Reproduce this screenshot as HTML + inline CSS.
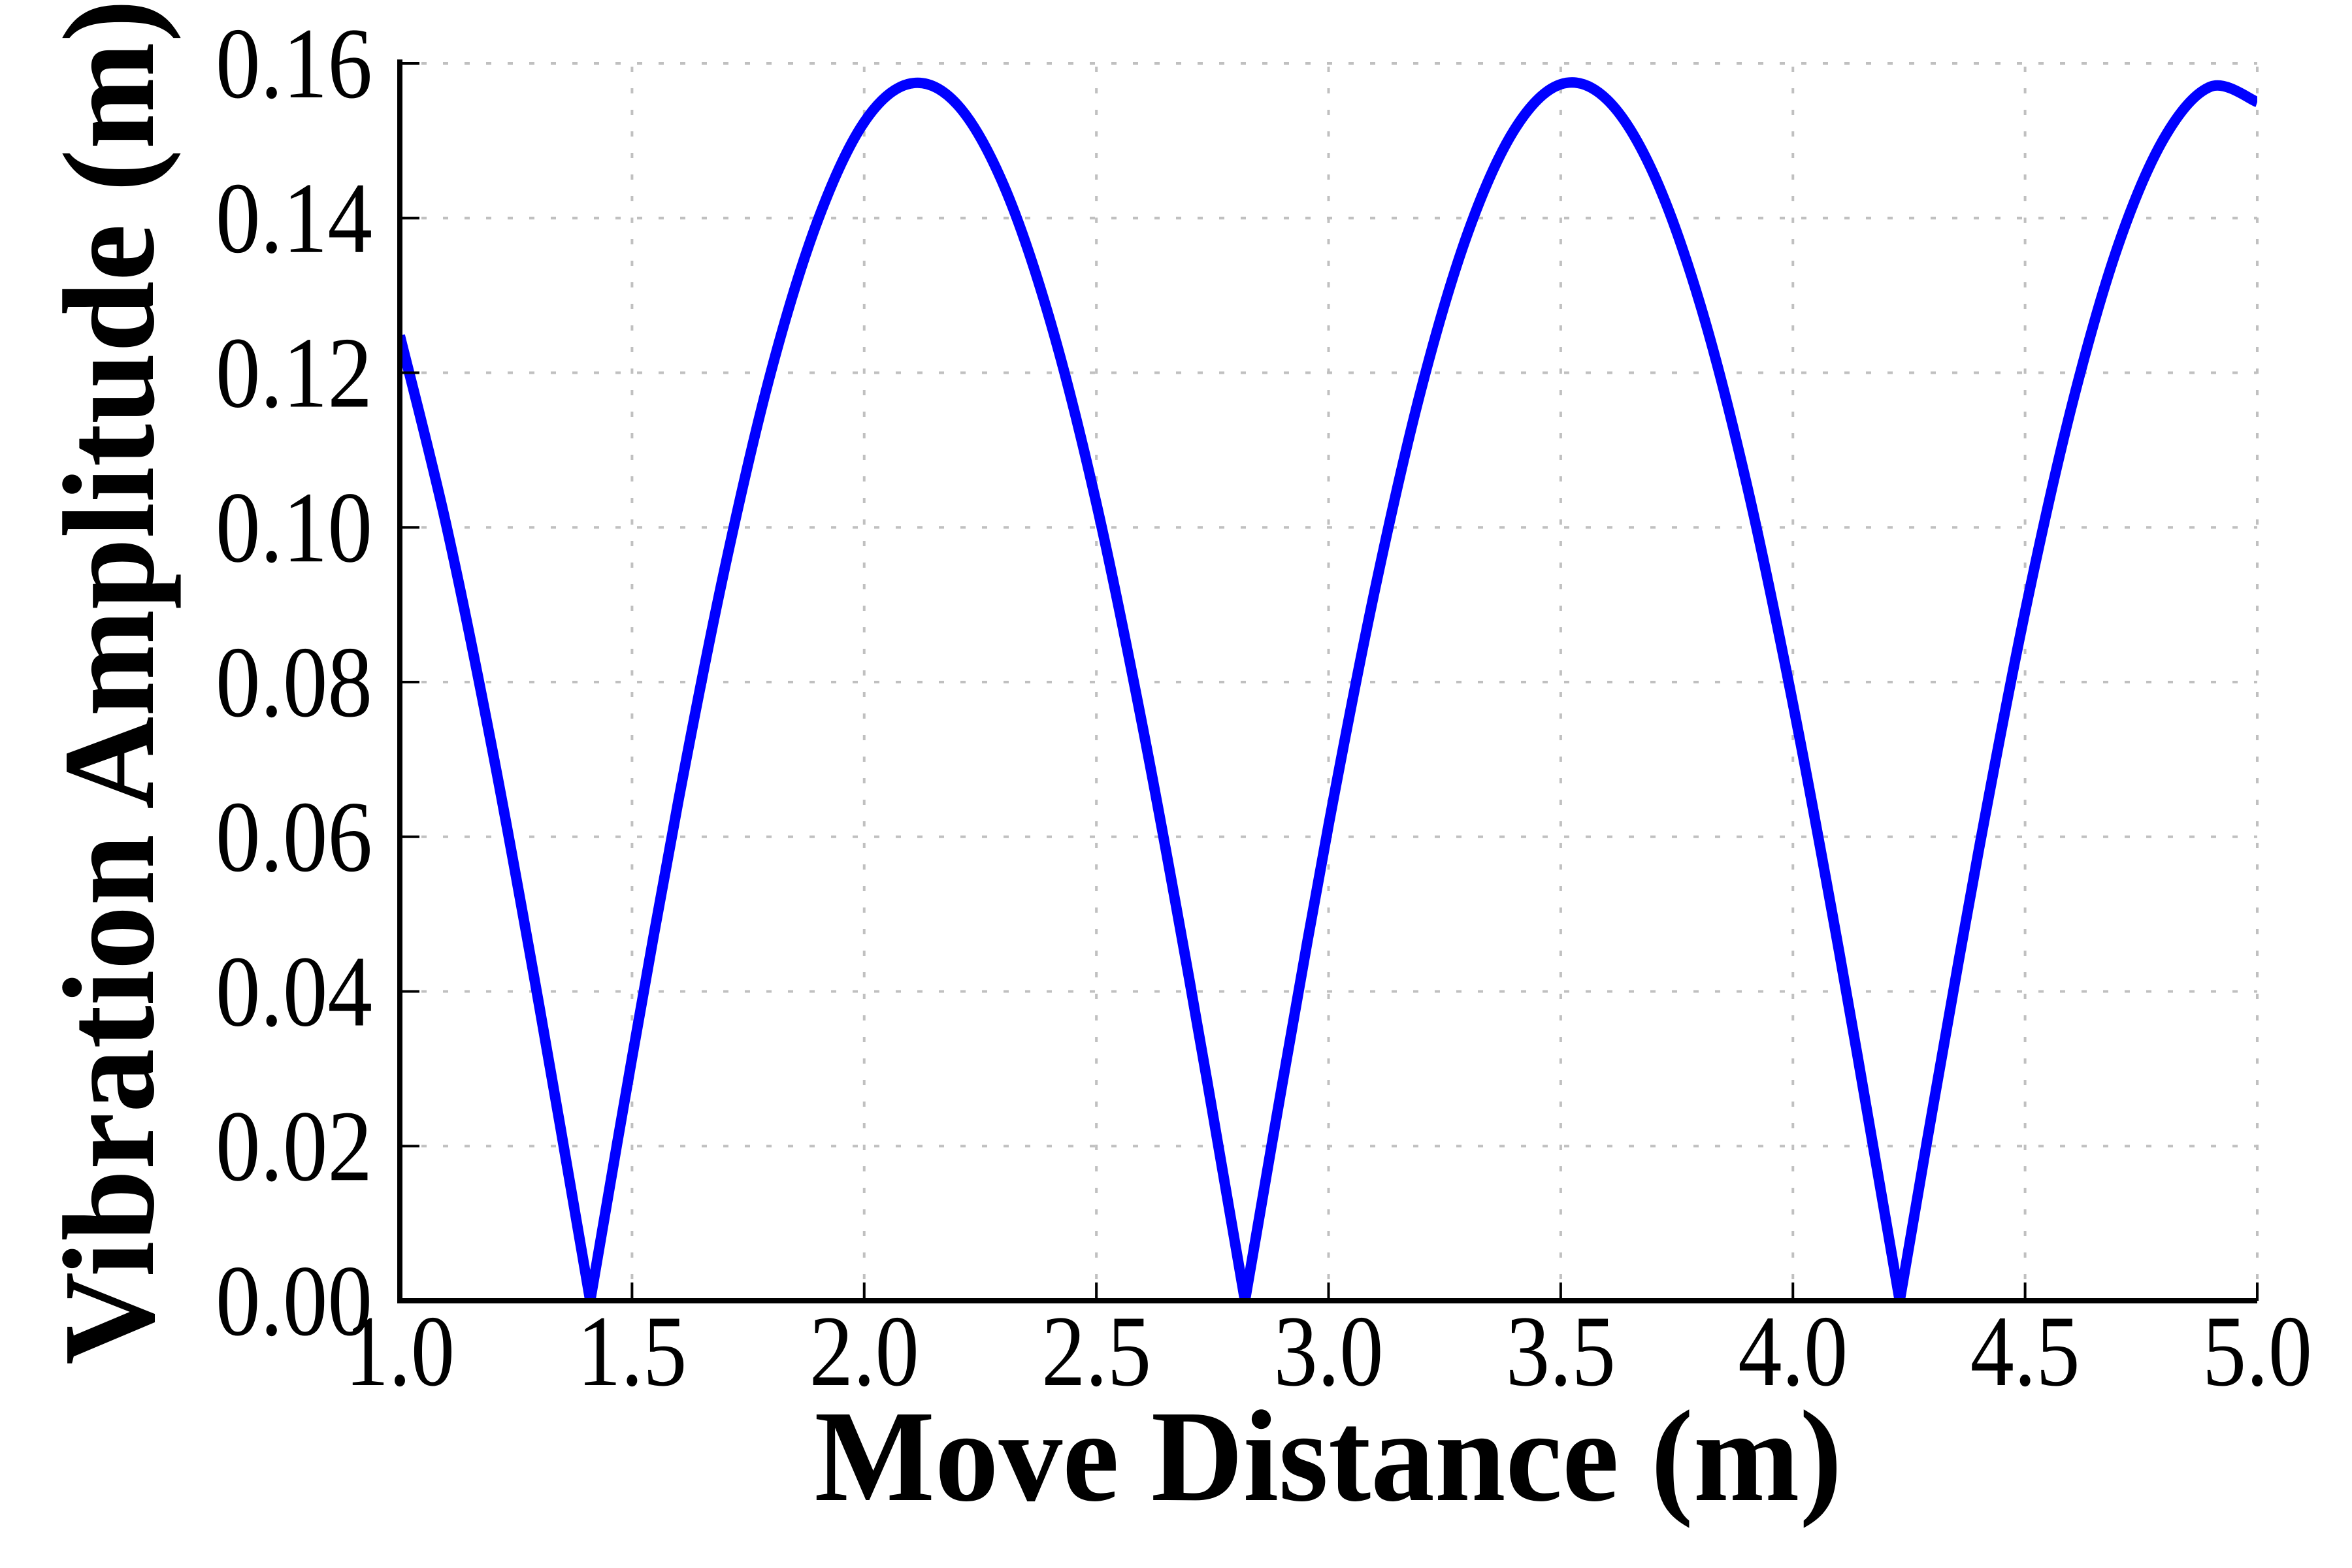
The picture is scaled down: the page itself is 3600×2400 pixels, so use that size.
<!DOCTYPE html>
<html><head><meta charset="utf-8"><style>
html,body{margin:0;padding:0;background:#fff;}
svg{display:block;}
text{font-family:"Liberation Serif",serif;fill:#000;}
</style></head><body>
<svg id="chart" width="3600" height="2400" viewBox="0 0 3600 2400" xmlns="http://www.w3.org/2000/svg">
<g id="grid"></g>
<g id="series"></g>
<g id="axes"></g>
<text x="2033" y="2296" text-anchor="middle" font-weight="bold" font-size="200" textLength="1573" lengthAdjust="spacingAndGlyphs">Move Distance (m)</text>
<text transform="translate(234,1044) rotate(-90)" text-anchor="middle" font-weight="bold" font-size="200" textLength="2090" lengthAdjust="spacingAndGlyphs">Vibration Amplitude (m)</text>
</svg>
<script>
const xTicks = [1.0, 1.5, 2.0, 2.5, 3.0, 3.5, 4.0, 4.5, 5.0];
const xTickLabels = ["1.0","1.5","2.0","2.5","3.0","3.5","4.0","4.5","5.0"];
const yTicks = [0, 0.02, 0.04, 0.06, 0.08, 0.10, 0.12, 0.14, 0.16];
const yTickLabels = ["0.00","0.02","0.04","0.06","0.08","0.10","0.12","0.14","0.16"];
const distance = [1.0,1.1,1.2,1.3,1.41,1.5,1.6,1.7,1.8,1.9,2.0,2.1,2.2,2.3,2.4,2.5,2.6,2.7,2.8,2.82,2.9,3.0,3.1,3.2,3.3,3.4,3.5,3.6,3.7,3.8,3.9,4.0,4.1,4.2,4.23,4.3,4.4,4.5,4.6,4.7,4.8,4.9,5.0];
const amplitude = [0.1248,0.1003,0.0710,0.0382,0,0.0314,0.0647,0.0948,0.1203,0.1397,0.1524,0.1574,0.1547,0.1443,0.1268,0.1031,0.0741,0.0416,0.0070,0,0.0279,0.0615,0.0920,0.1180,0.1381,0.1514,0.1573,0.1553,0.1457,0.1289,0.1057,0.0772,0.0450,0.0105,0,0.0245,0.0582,0.0891,0.1156,0.1364,0.1504,0.1570,0.1550];

const L=612,R=3455,T=97,B=1991;
const xMin=1,xMax=5,yMin=0,yMax=0.16;
function sx(v){return L+(v-xMin)/(xMax-xMin)*(R-L);}
function sy(v){return B-(v-yMin)/(yMax-yMin)*(B-T);}
const NS="http://www.w3.org/2000/svg";
function mk(tag,parent,attrs){const e=document.createElementNS(NS,tag);for(const k in attrs)e.setAttribute(k,attrs[k]);parent.appendChild(e);return e;}
const grid=document.getElementById('grid'),axes=document.getElementById('axes'),series=document.getElementById('series');

xTicks.forEach((v,i)=>{
  const x=sx(v);
  if(i>0){const g=mk('line',grid,{x1:x,y1:B,x2:x,y2:T,stroke:'#c0c0c0','stroke-width':4,'stroke-dasharray':'8 25'});
  
  }
  const t=mk('line',axes,{x1:x,y1:B,x2:x,y2:B-28,stroke:'#000','stroke-width':4});
  
  
  const lb=mk('text',axes,{x:x,y:2120,'text-anchor':'middle','font-size':155,textLength:168,lengthAdjust:'spacingAndGlyphs'});
  lb.textContent=xTickLabels[i];
  
  
});
yTicks.forEach((v,i)=>{
  const y=sy(v);
  if(i>0){const g=mk('line',grid,{x1:L,y1:y,x2:R,y2:y,stroke:'#c0c0c0','stroke-width':4,'stroke-dasharray':'8 25'});
  
  }
  const t=mk('line',axes,{x1:L,y1:y,x2:L+30,y2:y,stroke:'#000','stroke-width':4});
  
  
  const lb=mk('text',axes,{x:570,y:y+52,'text-anchor':'end','font-size':155,textLength:240,lengthAdjust:'spacingAndGlyphs'});
  lb.textContent=yTickLabels[i];
  
  
});
const ax=mk('line',axes,{x1:L,y1:B,x2:R,y2:B,stroke:'#000','stroke-width':8});


const ay=mk('line',axes,{x1:L,y1:B+4,x2:L,y2:T-6,stroke:'#000','stroke-width':8});



const pts=distance.map((d,i)=>[sx(d),sy(amplitude[i])]);
let segs=[[pts[0]]];
for(let i=1;i<pts.length;i++){segs[segs.length-1].push(pts[i]);if(amplitude[i]===0&&i<pts.length-1)segs.push([pts[i]]);}
let dstr='';
segs.forEach((s,si)=>{
  if(si===0)dstr+='M'+s[0][0]+','+s[0][1];
  for(let i=0;i<s.length-1;i++){
    const p0=s[i-1]||s[i],p1=s[i],p2=s[i+1],p3=s[i+2]||s[i+1];
    const c1=[p1[0]+(p2[0]-p0[0])/6,p1[1]+(p2[1]-p0[1])/6];
    const c2=[p2[0]-(p3[0]-p1[0])/6,p2[1]-(p3[1]-p1[1])/6];
    dstr+=' C'+c1[0]+','+c1[1]+' '+c2[0]+','+c2[1]+' '+p2[0]+','+p2[1];
  }
});
const clip=mk('clipPath',series,{id:'plotclip'});
mk('rect',clip,{x:L,y:0,width:R-L,height:B});
const path=mk('path',series,{d:dstr,fill:'none',stroke:'#0000ff','stroke-width':16,'stroke-linejoin':'round','clip-path':'url(#plotclip)'});


</script>
</body></html>
